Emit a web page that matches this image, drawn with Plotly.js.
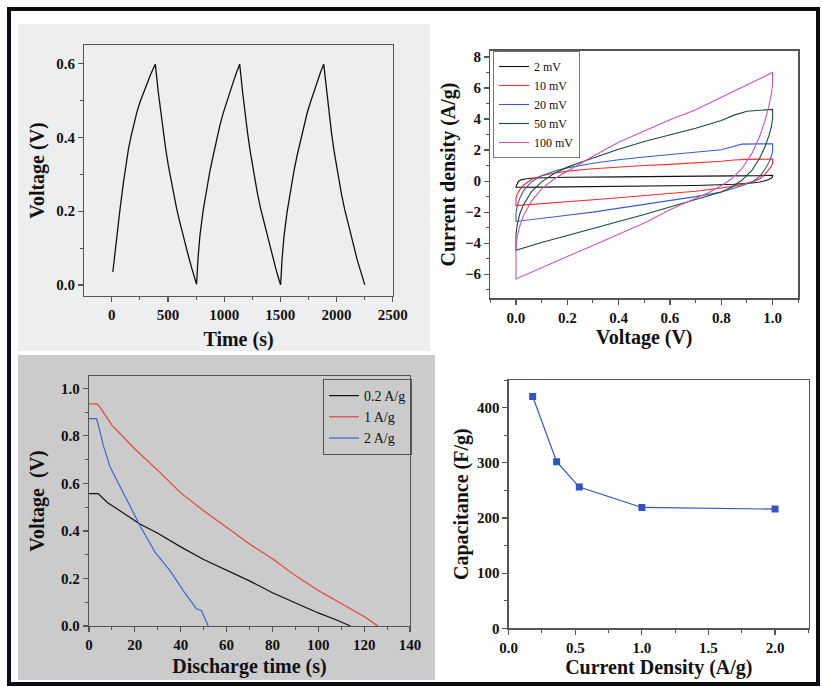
<!DOCTYPE html>
<html><head><meta charset="utf-8">
<script src="https://cdn.plot.ly/plotly-3.0.1.min.js"></script>
<style>html,body{margin:0;padding:0;background:#fff}#chart{width:822px;height:687px}</style>
</head><body><div id="chart"></div>
<script>
// ---- Panel (a): galvanostatic charge/discharge ----
var gcdTime = [9, 25, 44, 70, 103, 125, 148, 170, 192, 222, 250, 281, 310, 340, 365, 387,
  414, 436, 458, 480, 503, 525, 547, 576, 606, 635, 665, 688, 710, 732, 754,
  768, 784, 812, 843, 872, 902, 931, 961, 990, 1020, 1050, 1079, 1108, 1138,
  1165, 1186, 1208, 1230, 1252, 1274, 1296, 1325, 1355, 1385, 1414, 1436, 1458, 1480, 1502,
  1516, 1532, 1560, 1591, 1620, 1650, 1680, 1709, 1738, 1768, 1798, 1827, 1856, 1886,
  1913, 1934, 1956, 1978, 2000, 2022, 2044, 2073, 2103, 2132, 2162, 2184, 2207, 2229, 2252];
var gcdVoltage = [0.035, 0.081, 0.133, 0.198, 0.277, 0.323, 0.368, 0.401, 0.431, 0.467, 0.495, 0.521, 0.545, 0.566, 0.5835, 0.598,
  0.521, 0.465, 0.413, 0.367, 0.323, 0.285, 0.250, 0.208, 0.169, 0.132, 0.097, 0.071, 0.047, 0.024, 0.002,
  0.075, 0.133, 0.200, 0.259, 0.307, 0.350, 0.392, 0.431, 0.464, 0.494, 0.522, 0.548, 0.574, 0.598,
  0.520, 0.464, 0.412, 0.365, 0.322, 0.284, 0.248, 0.206, 0.168, 0.131, 0.096, 0.070, 0.046, 0.022, 0.0,
  0.073, 0.130, 0.198, 0.257, 0.307, 0.352, 0.393, 0.432, 0.465, 0.495, 0.523, 0.550, 0.575, 0.598,
  0.520, 0.463, 0.410, 0.363, 0.320, 0.282, 0.246, 0.204, 0.166, 0.129, 0.094, 0.068, 0.045, 0.021, 0.0];

// ---- Panel (b): cyclic voltammetry ----
var cvNames = ['2 mV', '10 mV', '20 mV', '50 mV', '100 mV'];
var cv2V   = [0, 0.005, 0.01, 0.02, 0.04, 0.07, 0.1, 0.2, 0.4, 0.6, 0.8, 0.9, 0.95, 1.0,
              1.0, 0.995, 0.985, 0.97, 0.95, 0.92, 0.85, 0.7, 0.5, 0.3, 0.1, 0.0, 0.0];
var cv2I   = [-0.35, -0.15, -0.02, 0.08, 0.15, 0.2, 0.22, 0.25, 0.27, 0.29, 0.31, 0.33, 0.35, 0.38,
              0.3, 0.2, 0.1, 0.02, -0.06, -0.12, -0.2, -0.28, -0.33, -0.36, -0.39, -0.4, -0.35];
var cv10V  = [0, 0.005, 0.015, 0.03, 0.06, 0.1, 0.15, 0.2, 0.3, 0.4, 0.5, 0.6, 0.7, 0.8, 0.85, 0.9, 1.0,
              1.0, 0.995, 0.985, 0.97, 0.95, 0.92, 0.87, 0.8, 0.7, 0.6, 0.5, 0.4, 0.3, 0.2, 0.1, 0.0, 0.0];
var cv10I  = [-1.1, -0.85, -0.55, -0.25, 0.1, 0.35, 0.52, 0.64, 0.8, 0.92, 1.0, 1.08, 1.16, 1.28, 1.36, 1.4, 1.42,
              1.14, 0.95, 0.75, 0.45, 0.15, -0.05, -0.26, -0.45, -0.65, -0.8, -0.95, -1.07, -1.2, -1.32, -1.45, -1.58, -1.1];
var cv20V  = [0, 0.005, 0.015, 0.03, 0.06, 0.1, 0.15, 0.2, 0.3, 0.4, 0.5, 0.6, 0.7, 0.8, 0.85, 0.88, 0.95, 1.0,
              1.0, 0.995, 0.985, 0.97, 0.95, 0.92, 0.88, 0.8, 0.7, 0.6, 0.5, 0.4, 0.3, 0.2, 0.1, 0.0, 0.0];
var cv20I  = [-2.05, -1.6, -1.1, -0.6, -0.05, 0.35, 0.65, 0.85, 1.15, 1.38, 1.55, 1.7, 1.85, 2.02, 2.25, 2.38, 2.4, 2.4,
              1.95, 1.6, 1.2, 0.75, 0.3, -0.05, -0.3, -0.7, -1.0, -1.25, -1.5, -1.75, -2.0, -2.2, -2.4, -2.6, -2.05];
var cv50V  = [0, 0.005, 0.015, 0.03, 0.06, 0.1, 0.15, 0.2, 0.25, 0.3, 0.4, 0.5, 0.6, 0.7, 0.8, 0.85, 0.9, 0.95, 1.0,
              1.0, 0.995, 0.985, 0.97, 0.95, 0.92, 0.88, 0.84, 0.8, 0.75, 0.7, 0.6, 0.5, 0.4, 0.3, 0.2, 0.1, 0.0, 0.0];
var cv50I  = [-3.45, -2.8, -2.1, -1.5, -0.7, -0.05, 0.5, 0.9, 1.2, 1.5, 2.05, 2.55, 3.0, 3.4, 3.9, 4.25, 4.5, 4.58, 4.62,
              4.05, 3.5, 2.9, 2.2, 1.5, 0.7, 0.05, -0.4, -0.7, -0.95, -1.2, -1.65, -2.15, -2.6, -3.05, -3.5, -3.95, -4.45, -3.45];
var cv100V = [0, 0.005, 0.015, 0.03, 0.06, 0.1, 0.15, 0.2, 0.25, 0.3, 0.4, 0.5, 0.6, 0.7, 0.8, 0.9, 0.95, 1.0,
              1.0, 0.995, 0.985, 0.97, 0.95, 0.92, 0.88, 0.84, 0.8, 0.75, 0.7, 0.6, 0.5, 0.4, 0.3, 0.2, 0.1, 0.0, 0.0];
var cv100I = [-4.3, -3.6, -2.9, -2.2, -1.3, -0.5, 0.15, 0.65, 1.1, 1.6, 2.5, 3.25, 3.95, 4.6, 5.4, 6.2, 6.6, 7.0,
              6.3, 5.6, 4.8, 3.9, 2.9, 1.8, 0.8, 0.15, -0.3, -0.75, -1.1, -1.85, -2.7, -3.45, -4.15, -4.85, -5.55, -6.3, -4.3];

// ---- Panel (c): discharge curves ----
var disNames = ['0.2 A/g', '1 A/g', '2 A/g'];
var dis02Time = [0, 4, 8, 15, 22, 30, 40, 50, 60, 70, 80, 90, 100, 108, 114];
var dis02V    = [0.557, 0.557, 0.52, 0.475, 0.43, 0.39, 0.333, 0.28, 0.236, 0.19, 0.14, 0.097, 0.055, 0.025, 0.0];
var dis1Time  = [0, 3.5, 5, 10, 20, 30, 40, 50, 60, 70, 80, 90, 100, 110, 120, 126];
var dis1V     = [0.935, 0.935, 0.918, 0.845, 0.745, 0.655, 0.56, 0.485, 0.416, 0.345, 0.283, 0.212, 0.149, 0.095, 0.04, 0.0];
var dis2Time  = [0, 3.3, 5, 6.2, 9.2, 12.1, 17.2, 22.2, 28.8, 35.3, 41.1, 46.9, 49, 52];
var dis2V     = [0.873, 0.873, 0.81, 0.761, 0.669, 0.613, 0.515, 0.423, 0.311, 0.233, 0.149, 0.072, 0.065, 0.0];

// ---- Panel (d): capacitance vs current density ----
var currentDensity = [0.18, 0.36, 0.53, 1.0, 2.0];
var capacitance    = [420, 302, 256, 219, 216];

var W = 822, H = 687;
function px(x){ return x / W; }
function py(y){ return 1 - y / H; }
var FONT = 'Liberation Serif, Times New Roman, serif';

function axis(dom, rng, dtick, minorD, fmt, title, standoff, anchor, tsize){
  var a = {
    domain: dom, range: rng, dtick: dtick, tick0: 0, anchor: anchor,
    showgrid: false, zeroline: false, showline: true, mirror: true,
    linecolor: '#555', linewidth: 1.3,
    ticks: 'outside', ticklen: 5, tickwidth: 1.2, tickcolor: '#555',
    minor: {dtick: minorD, tick0: 0, ticks: 'outside', ticklen: 3, tickwidth: 1, tickcolor: '#555'},
    tickfont: {family: FONT, size: tsize || 15, weight: 'bold', color: '#111'},
    title: {text: title, standoff: standoff, font: {family: FONT, size: 20, weight: 'bold', color: '#111'}},
    fixedrange: true
  };
  if (fmt) a.tickformat = fmt;
  return a;
}

var cvColors = ['#111111', '#FF2A2A', '#3A5CC8', '#1B4B3B', '#CC55BB'];
var cvV = [cv2V, cv10V, cv20V, cv50V, cv100V];
var cvI = [cv2I, cv10I, cv20I, cv50I, cv100I];
var disColors = ['#111111', '#E04545', '#4466CC'];
var disT = [dis02Time, dis1Time, dis2Time];
var disV = [dis02V, dis1V, dis2V];

var data = [];
data.push({x: gcdTime, y: gcdVoltage, xaxis: 'x', yaxis: 'y', mode: 'lines',
  line: {color: '#111', width: 1.3}, showlegend: false, hoverinfo: 'skip'});
for (var i = 0; i < cvNames.length; i++) {
  data.push({x: cvV[i], y: cvI[i], xaxis: 'x2', yaxis: 'y2', mode: 'lines', name: cvNames[i],
    line: {color: cvColors[i], width: 1.1}, legend: 'legend'});
}
for (var j = 0; j < disNames.length; j++) {
  data.push({x: disT[j], y: disV[j], xaxis: 'x3', yaxis: 'y3', mode: 'lines', name: disNames[j],
    line: {color: disColors[j], width: 1.2}, legend: 'legend2'});
}
data.push({x: currentDensity, y: capacitance, xaxis: 'x4', yaxis: 'y4', mode: 'lines+markers',
  line: {color: '#3355BB', width: 1.2}, marker: {symbol: 'square', size: 7, color: '#3355BB'},
  showlegend: false});

var layout = {
  width: W, height: H, margin: {l: 0, r: 0, t: 0, b: 0, autoexpand: false},
  paper_bgcolor: '#ffffff', plot_bgcolor: 'rgba(0,0,0,0)',
  font: {family: FONT, color: '#111'},
  xaxis:  axis([px(84.3), px(392.7)], [-245, 2500], 500, 250, null, 'Time (s)', 9, 'y'),
  yaxis:  axis([py(296), py(45)], [-0.03, 0.65], 0.2, 0.1, '.1f', 'Voltage (V)', 6, 'x'),
  xaxis2: axis([px(490.3), px(798.3)], [-0.1, 1.1], 0.2, 0.1, '.1f', 'Voltage (V)', 5, 'y2'),
  yaxis2: axis([py(298.3), py(50.7)], [-7.55, 8.4], 2, 1, null, 'Current density (A/g)', 4, 'x2'),
  xaxis3: axis([px(89), px(410)], [0, 140], 20, 10, null, 'Discharge time (s)', 6, 'y3'),
  yaxis3: axis([py(626), py(376)], [0, 1.052], 0.2, 0.1, '.1f', 'Voltage  (V)', 11, 'x3'),
  xaxis4: axis([px(508.7), px(809)], [0, 2.255], 0.5, 0.25, '.1f', 'Current Density (A/g)', 4, 'y4'),
  yaxis4: axis([py(628.3), py(380)], [0, 450], 100, 50, null, 'Capacitance (F/g)', 3, 'x4'),
  legend: {x: px(493), y: py(51), xanchor: 'left', yanchor: 'top',
    bgcolor: '#ffffff', bordercolor: '#777', borderwidth: 1,
    font: {family: FONT, size: 12, color: '#111'}, tracegroupgap: 0, itemwidth: 30},
  legend2: {x: px(323), y: py(379), xanchor: 'left', yanchor: 'top',
    bgcolor: 'rgba(0,0,0,0)', bordercolor: '#555', borderwidth: 1,
    font: {family: FONT, size: 14, color: '#111'}, tracegroupgap: 0, itemwidth: 30},
  shapes: [
    {type: 'rect', xref: 'paper', yref: 'paper', layer: 'below',
     x0: px(18), x1: px(430), y0: py(351), y1: py(24), fillcolor: '#EDEEF0', line: {width: 0}},
    {type: 'rect', xref: 'paper', yref: 'paper', layer: 'below',
     x0: px(18), x1: px(435), y0: py(680), y1: py(355), fillcolor: '#CBCBCB', line: {width: 0}},
    {type: 'rect', xref: 'paper', yref: 'paper', layer: 'above',
     x0: px(9), x1: px(818), y0: py(684), y1: py(9), line: {color: '#0B0B14', width: 4}}
  ]
};

Plotly.newPlot('chart', data, layout, {displayModeBar: false, staticPlot: true});
</script></body></html>
